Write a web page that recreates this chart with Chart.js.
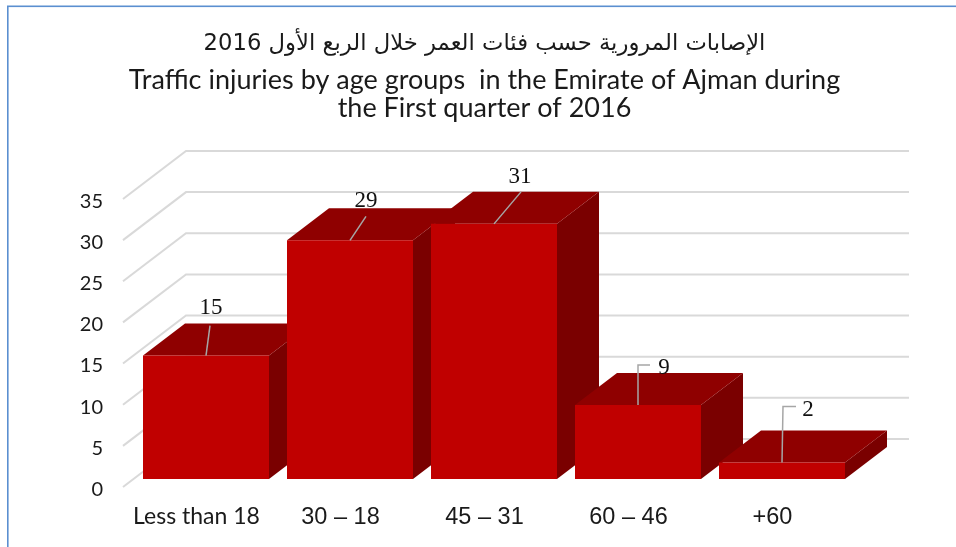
<!DOCTYPE html>
<html>
<head>
<meta charset="utf-8">
<style>html,body{margin:0;padding:0;background:#fff}canvas{display:block}</style>
<script src="https://cdn.jsdelivr.net/npm/chart.js@4/dist/chart.umd.min.js"></script>
</head>
<body>
<canvas id="c" width="956" height="547"></canvas>
<script>
const categories = ["Less than 18", "30 – 18", "45 – 31", "60 – 46", "+60"];
const injuries = [15, 29, 31, 9, 2];
const valueTicks = [0, 5, 10, 15, 20, 25, 30, 35];
const titleArabic = "\u202Bالإصابات المرورية حسب فئات العمر خلال الربع الأول 2016\u202C";
const titleEnglish = ["Traffic injuries by age groups  in the Emirate of Ajman during", "the First quarter of 2016"];

const WALL = {dx: 63, dy: 48, w: 723};
const BAR = {ox: 11, oy: 8, dx: 42, dy: 32};
const LEADERS = [
  {pts: [[4, -30]], label: [5, -48]},
  {pts: [[16, -24]], label: [16, -39]},
  {pts: [[27, -32]], label: [26, -47]},
  {pts: [[0, -40], [12, -40]], label: [26, -37]},
  {pts: [[1, -56], [14, -56]], label: [26, -53]}
];

const scene3d = {
  id: 'scene3d',
  afterLayout(chart) {
    chart.boxes.forEach(b => { if (b.options && 'text' in b.options && !b.axis) b.right += 3; });
  },
  beforeDraw(chart) {
    const c = chart.ctx;
    c.save();
    c.fillStyle = '#fff';
    c.fillRect(0, 0, chart.width, chart.height);
    c.strokeStyle = '#5b8fd0';
    c.lineWidth = 1.6;
    c.strokeRect(7.8, 6.3, 1200, 1200);
    c.restore();
  },
  beforeDatasetsDraw(chart) {
    const c = chart.ctx, y = chart.scales.y, a = chart.chartArea;
    c.save();
    c.strokeStyle = '#d9d9d9';
    c.lineWidth = 2;
    y.ticks.forEach(t => {
      const py = y.getPixelForValue(t.value);
      c.beginPath();
      c.moveTo(a.left, py);
      c.lineTo(a.left + WALL.dx, py - WALL.dy);
      c.lineTo(a.left + WALL.dx + WALL.w, py - WALL.dy);
      c.stroke();
    });
    c.restore();
    c.save();
    c.translate(BAR.ox, -BAR.oy);
    const m = chart.getDatasetMeta(0);
    m.data.forEach(el => {
      const l = el.x - el.width / 2, r = el.x + el.width / 2, t = el.y, b = el.base;
      c.fillStyle = '#7a0000';
      c.beginPath();
      c.moveTo(r, t); c.lineTo(r + BAR.dx, t - BAR.dy); c.lineTo(r + BAR.dx, b - BAR.dy); c.lineTo(r, b);
      c.closePath(); c.fill();
      c.fillStyle = '#8f0000';
      c.beginPath();
      c.moveTo(l, t); c.lineTo(l + BAR.dx, t - BAR.dy); c.lineTo(r + BAR.dx, t - BAR.dy); c.lineTo(r, t);
      c.closePath(); c.fill();
    });
    // bar front faces are drawn by Chart.js inside this same offset
  },
  afterDatasetsDraw(chart) {
    const c = chart.ctx;
    c.restore();
    c.save();
    const m = chart.getDatasetMeta(0);
    c.font = '23px "Liberation Serif"';
    c.textAlign = 'center';
    c.textBaseline = 'middle';
    m.data.forEach((el, i) => {
      const x = el.x + BAR.ox, y = el.y - BAR.oy, L = LEADERS[i];
      c.strokeStyle = '#a6a6a6';
      c.lineWidth = 1.5;
      c.beginPath();
      c.moveTo(x, y);
      L.pts.forEach(p => c.lineTo(x + p[0], y + p[1]));
      c.stroke();
      c.fillStyle = '#111';
      c.fillText(String(injuries[i]), x + L.label[0], y + L.label[1]);
    });
    c.restore();
  }
};

new Chart(document.getElementById('c'), {
  type: 'bar',
  data: {
    labels: categories,
    datasets: [{
      data: injuries,
      backgroundColor: '#c00000',
      borderWidth: 0,
      categoryPercentage: 1,
      barPercentage: 0.875,
      clip: false
    }]
  },
  plugins: [scene3d],
  options: {
    responsive: false,
    animation: false,
    devicePixelRatio: 1,
    layout: {padding: {left: 0, right: 113, top: 0, bottom: 0}},
    plugins: {
      legend: {display: false},
      tooltip: {enabled: false},
      title: {
        display: true, text: titleArabic, fullSize: false, color: '#1a1a1a',
        font: {family: '"DejaVu Sans"', size: 22.7, weight: 'normal', lineHeight: 1.4},
        padding: {top: 28, bottom: 0}
      },
      subtitle: {
        display: true, text: titleEnglish, fullSize: false, color: '#1a1a1a',
        font: {family: 'Lato', size: 27, weight: 'normal', lineHeight: 1.04},
        padding: {top: 6, bottom: 77}
      }
    },
    scales: {
      x: {
        afterFit(s) { s.height = 60; },
        grid: {display: false, drawTicks: false},
        border: {display: false},
        ticks: {
          padding: 16, maxRotation: 0, autoSkip: false, color: '#1a1a1a', labelOffset: 1.5,
          font: ctx => ctx.index === 0 ? {family: 'Lato', size: 23} : {family: '"Liberation Sans"', size: 23.5}
        }
      },
      y: {
        min: 0, max: 35,
        afterFit(s) { s.width = 123; },
        afterBuildTicks(s) { s.ticks = valueTicks.map(v => ({value: v})); },
        grid: {display: false, drawTicks: false},
        border: {display: false},
        ticks: {padding: 20, color: '#1a1a1a', labelOffset: 2.5, font: {family: 'Lato', size: 20}}
      }
    }
  }
});
</script>
</body>
</html>
